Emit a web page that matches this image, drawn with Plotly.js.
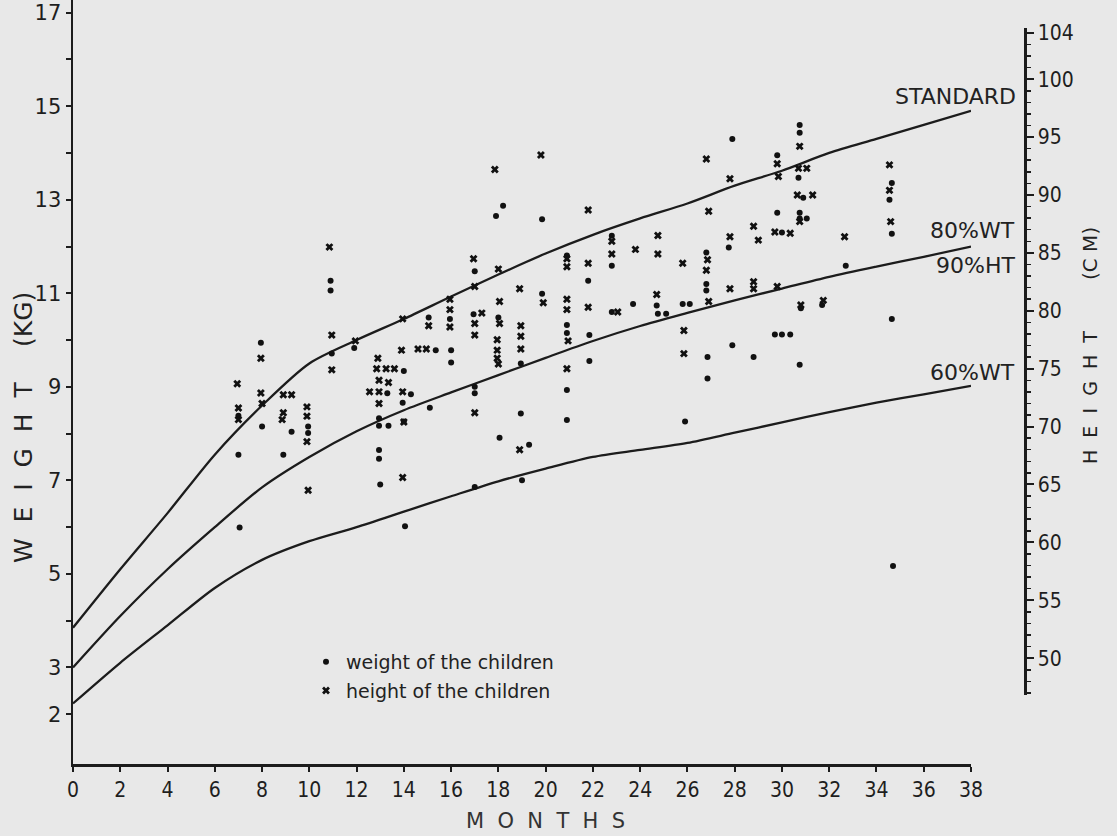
<!DOCTYPE html>
<html><head><meta charset="utf-8">
<script src="https://cdn.plot.ly/plotly-3.0.1.min.js"></script>
<style>html,body{margin:0;padding:0;background:#e8e8e8;}</style>
</head><body><div id="chart" style="width:1117px;height:836px;"></div>
<script>
// ---- data ----
const curveMonths = [0,2,4,6,8,10,12,14,16,18,20,22,24,26,28,30,32,34,36,38];
const standardWt  = [3.85,5.1,6.3,7.55,8.6,9.5,10.0,10.45,10.93,11.4,11.85,12.25,12.6,12.92,13.3,13.62,14.0,14.3,14.6,14.9];
const wt80ht90    = [3.0,4.1,5.1,6.0,6.85,7.5,8.05,8.5,8.88,9.25,9.62,9.98,10.3,10.58,10.85,11.1,11.35,11.57,11.78,12.0];
const wt60        = [2.23,3.1,3.9,4.7,5.3,5.7,6.0,6.33,6.66,6.98,7.25,7.5,7.65,7.8,8.02,8.24,8.46,8.66,8.84,9.02];

const weightMonths = [10.9,10.9,10.95,11.9,7.95,7.0,7.0,7.05,8.0,9.25,8.9,9.95,9.95,14.0,13.3,12.95,12.95,13.35,12.95,12.95,13.0,14.3,13.95,14.0,14.05,15.35,15.05,15.1,15.95,16.0,16.0,17.0,16.95,17.0,17.0,17.0,18.0,18.05,18.2,17.9,19.85,18.95,18.95,19.3,19.0,19.85,20.9,20.9,20.9,20.9,20.9,21.8,21.85,21.85,22.8,22.8,22.8,23.7,24.7,24.75,25.1,25.8,26.1,25.9,26.8,26.8,26.8,26.85,26.85,27.9,27.75,27.9,28.8,30.0,29.8,29.8,29.7,30.0,30.35,30.75,30.75,30.7,30.9,30.75,30.75,31.05,30.8,30.75,31.7,32.7,34.65,34.55,34.65,34.65,34.7];
const weightKg     = [11.27,11.06,9.71,9.83,9.94,8.38,7.55,5.99,8.15,8.04,7.55,8.15,8.01,9.34,8.86,8.33,8.17,8.17,7.65,7.46,6.91,8.84,8.66,8.26,6.02,9.78,10.48,8.55,10.45,9.78,9.52,11.47,10.55,9.0,8.86,6.86,10.48,7.91,12.87,12.65,12.58,9.5,8.43,7.76,7.0,10.99,11.81,10.32,10.15,8.93,8.29,11.27,10.11,9.55,12.23,11.59,10.6,10.77,10.74,10.56,10.56,10.77,10.77,8.26,11.87,11.2,11.06,9.64,9.18,14.3,11.98,9.89,9.64,12.3,13.95,12.72,10.12,10.12,10.12,14.6,14.43,13.47,13.04,12.72,12.6,12.6,10.68,9.47,10.75,11.59,13.36,13.0,12.27,10.45,5.17];

const heightMonths = [10.85,10.95,10.95,11.95,7.95,6.95,7.95,7.0,7.0,8.0,8.9,9.25,8.9,8.85,9.9,9.9,9.9,9.95,12.9,12.85,13.25,13.6,12.95,13.35,12.55,12.95,12.95,13.9,13.95,14.0,13.95,13.95,14.6,14.95,15.05,15.95,15.95,15.95,16.95,17.0,17.3,17.0,17.0,17.0,18.0,18.05,18.05,17.95,17.95,17.95,18.0,17.85,19.8,21.8,18.9,18.95,18.95,18.95,18.9,19.9,20.9,20.9,20.9,20.9,20.95,20.9,21.8,21.8,22.8,22.8,23.05,23.8,24.75,24.75,24.7,25.8,25.85,25.85,26.8,26.9,26.85,26.8,26.9,27.8,27.8,27.8,28.8,29.0,28.8,28.8,29.7,30.35,29.8,29.85,29.8,30.75,30.7,31.05,30.65,31.3,30.75,30.8,31.75,32.65,34.55,34.55,34.6];
const heightCm     = [85.5,77.9,74.9,77.4,75.9,73.7,72.9,71.6,70.6,72.0,72.75,72.75,71.2,70.6,71.7,70.9,68.7,64.5,75.9,75.0,75.0,75.0,74.0,73.8,73.0,73.0,72.0,76.6,73.0,70.4,65.6,79.3,76.7,76.7,78.7,81.0,80.1,78.6,84.5,82.1,79.8,78.9,77.9,71.2,83.6,80.8,78.9,77.5,76.6,75.9,75.4,92.2,93.45,88.7,81.9,78.7,77.8,76.7,68.0,80.7,84.5,83.8,81.0,80.1,77.4,75.0,84.1,80.3,86.0,84.9,79.9,85.3,86.5,84.9,81.4,84.1,78.3,76.3,93.1,88.6,84.4,83.5,80.8,91.4,86.4,81.9,87.3,86.1,82.5,81.9,86.8,86.7,92.7,91.6,82.1,94.2,92.3,92.3,90.0,90.0,87.7,80.5,80.9,86.4,92.6,90.4,87.7];

const monthTicks = [0,2,4,6,8,10,12,14,16,18,20,22,24,26,28,30,32,34,36,38];
const kgTickVals = [2,3,4,5,6,7,8,9,10,11,12,13,14,15,16,17];
const kgTickText = ['2','3','','5','','7','','9','','11','','13','','15','','17'];
const cmTickVals = [50,55,60,65,70,75,80,85,90,95,100,104];
const cmTickText = ['50','55','60','65','70','75','80','85','90','95','100','104'];

// ---- layout helpers (pixel -> paper) ----
const W = 1117, H = 836, ML = 73, MR = 40, MT = 0, MB = 72;
const PW = W - ML - MR, PH = H - MT - MB;
const fx = p => (p - ML) / PW;
const fy = p => (PH + MT - p) / PH;

const ink = '#1c1c1c';
const lineStyle = {color: ink, width: 2.3, shape: 'spline', smoothing: 0.8};

const traces = [
  {x: curveMonths, y: standardWt, mode: 'lines', line: lineStyle, showlegend: false, hoverinfo: 'skip'},
  {x: curveMonths, y: wt80ht90, mode: 'lines', line: lineStyle, showlegend: false, hoverinfo: 'skip'},
  {x: curveMonths, y: wt60, mode: 'lines', line: lineStyle, showlegend: false, hoverinfo: 'skip'},
  {x: weightMonths, y: weightKg, mode: 'markers', name: 'weight of the children', legendgroup: 'w',
   marker: {symbol: 'circle', size: 6, color: '#111'}},
  {x: heightMonths, y: heightCm, yaxis: 'y2', mode: 'markers', name: 'height of the children', legendgroup: 'h',
   marker: {symbol: 'x', size: 7, color: '#111'}}
];

const tickFontL = {family: 'DejaVu Sans', size: 21, color: '#1e1e1e'};
const tickFontC = {family: 'DejaVu Sans Condensed, DejaVu Sans', size: 21, color: '#1e1e1e'};
const labFont = {family: 'DejaVu Sans', size: 22, color: '#222'};

const layout = {
  width: W, height: H,
  margin: {l: ML, r: MR, t: MT, b: MB, pad: 0},
  paper_bgcolor: '#e8e8e8', plot_bgcolor: 'rgba(0,0,0,0)',
  showlegend: true,
  legend: {x: fx(306), y: fy(643), xanchor: 'left', yanchor: 'top', bgcolor: 'rgba(0,0,0,0)',
           font: {family: 'DejaVu Sans', size: 19, color: '#222'}, tracegroupgap: 1},
  xaxis: {domain: [0, fx(971)], range: [0, 38], tickmode: 'array', tickvals: monthTicks,
          showline: true, linecolor: ink, linewidth: 2.5, ticks: 'outside', ticklen: 5, tickwidth: 2,
          tickcolor: ink, showgrid: false, zeroline: false, tickfont: tickFontC, ticklabelstandoff: 0,
          ticklabeloverflow: 'allow', fixedrange: true},
  yaxis: {domain: [0, 1], range: [0.936, 17.27], tickmode: 'array', tickvals: kgTickVals, ticktext: kgTickText,
          showline: true, linecolor: ink, linewidth: 2.5, ticks: 'outside', ticklen: 5, tickwidth: 2,
          tickcolor: ink, showgrid: false, zeroline: false, tickfont: tickFontL, ticklabeloverflow: 'allow',
          fixedrange: true},
  yaxis2: {domain: [fy(695), fy(28)], range: [46.82, 104.42], anchor: 'free', position: fx(1025), side: 'right',
           tickmode: 'array', tickvals: cmTickVals, ticktext: cmTickText,
           showline: true, linecolor: ink, linewidth: 2.5, ticks: 'outside', ticklen: 7, tickwidth: 2,
           tickcolor: ink, showgrid: false, zeroline: false, tickfont: tickFontC, ticklabeloverflow: 'allow',
           fixedrange: true,
           minor: {tickmode: 'linear', tick0: 0, dtick: 1, ticks: 'outside', ticklen: 4, tickwidth: 1.5, tickcolor: ink, showgrid: false}},
  annotations: [
    {text: 'STANDARD', x: fx(1018), y: fy(97), xref: 'paper', yref: 'paper', xanchor: 'right', yanchor: 'middle', showarrow: false, font: labFont},
    {text: '80%WT', x: fx(1017), y: fy(230), xref: 'paper', yref: 'paper', xanchor: 'right', yanchor: 'middle', showarrow: false, font: labFont},
    {text: '90%HT', x: fx(1017), y: fy(265), xref: 'paper', yref: 'paper', xanchor: 'right', yanchor: 'middle', showarrow: false, font: labFont},
    {text: '60%WT', x: fx(1017), y: fy(373), xref: 'paper', yref: 'paper', xanchor: 'right', yanchor: 'middle', showarrow: false, font: labFont},
    {text: 'W\u00a0\u00a0E\u00a0\u00a0I\u00a0\u00a0G\u00a0\u00a0H\u00a0\u00a0T', x: fx(23), y: fy(472), xref: 'paper', yref: 'paper',
     xanchor: 'center', yanchor: 'middle', textangle: -90, showarrow: false, font: {family: 'DejaVu Sans', size: 25, color: '#222'}},
    {text: '(KG)', x: fx(23), y: fy(320), xref: 'paper', yref: 'paper',
     xanchor: 'center', yanchor: 'middle', textangle: -90, showarrow: false, font: {family: 'DejaVu Sans', size: 25, color: '#222'}},
    {text: 'H\u00a0\u00a0E\u00a0\u00a0I\u00a0\u00a0G\u00a0\u00a0H\u00a0\u00a0T', x: fx(1090), y: fy(398), xref: 'paper', yref: 'paper',
     xanchor: 'center', yanchor: 'middle', textangle: -90, showarrow: false, font: {family: 'DejaVu Sans', size: 19, color: '#222'}},
    {text: '(C\u00a0M)', x: fx(1090), y: fy(254), xref: 'paper', yref: 'paper',
     xanchor: 'center', yanchor: 'middle', textangle: -90, showarrow: false, font: {family: 'DejaVu Sans', size: 20, color: '#222'}},
    {text: 'M\u00a0\u00a0O\u00a0\u00a0N\u00a0\u00a0T\u00a0\u00a0H\u00a0\u00a0S', x: fx(545), y: fy(821), xref: 'paper', yref: 'paper',
     xanchor: 'center', yanchor: 'middle', showarrow: false, font: {family: 'DejaVu Sans', size: 21, color: '#333'}}
  ]
};

Plotly.newPlot('chart', traces, layout, {displayModeBar: false, staticPlot: true});
</script>
</body></html>
